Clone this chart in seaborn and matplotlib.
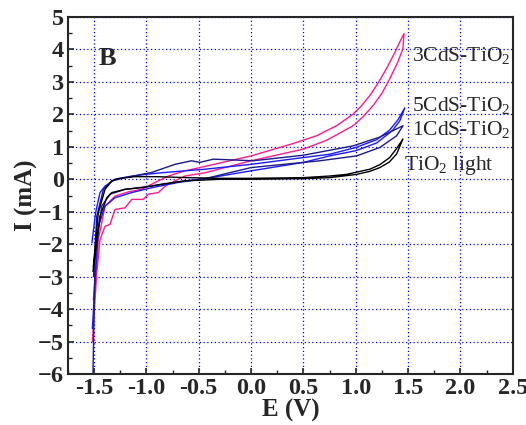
"""Voltametria ciclica (figura B) - TiO2 e CdS-TiO2 sob luz."""
import pandas as pd
import matplotlib
matplotlib.use("Agg")
import matplotlib.pyplot as plt
import seaborn as sns

sns.set_style("ticks")
plt.rcParams["font.family"] = ["Liberation Serif", "DejaVu Serif"]
plt.rcParams["mathtext.fontset"] = "custom"
plt.rcParams["mathtext.rm"] = "Liberation Serif"
plt.rcParams["mathtext.bf"] = "Liberation Serif:bold"

"""Curvas lidas da figura: ramo de ida e ramo de volta"""
# 3CdS-TiO2 (rosa)
cds3_E_ida = [-1.516, -1.474, -1.443, -1.395, -1.347, -1.30, -1.204, -1.14, -1.03, -0.98, -0.886,
              -0.82, -0.727, -0.632, -0.44, 0.0, 0.5, 0.72, 0.975, 1.07, 1.165, 1.25, 1.325,
              1.40, 1.45, 1.461]
cds3_I_ida = [-5.0, -2.89, -1.86, -1.45, -1.39, -0.93, -0.88, -0.62, -0.62, -0.46, -0.41,
              -0.21, -0.05, 0.10, 0.20, 0.57, 0.93, 1.20, 1.65, 1.93, 2.27, 2.65, 3.10,
              3.60, 4.02, 4.49]
cds3_E_volta = [1.461, 1.42, 1.36, 1.293, 1.21, 1.134, 1.05, 0.975, 0.816, 0.625, 0.40, 0.0,
                -0.489, -0.632, -0.79, -0.918, -1.045, -1.173, -1.30, -1.395, -1.459, -1.507]
cds3_I_volta = [4.49, 4.23, 3.82, 3.41, 2.95, 2.58, 2.25, 2.01, 1.65, 1.34, 1.10, 0.72,
                0.36, 0.26, 0.10, -0.10, -0.31, -0.39, -0.52, -0.83, -1.86, -3.72]

# 5CdS-TiO2 (azul)
cds5_E_ida = [-1.516, -1.459, -1.395, -1.30, -1.14, -0.95, -0.70, -0.44, 0.0, 0.5, 0.75,
              1.0, 1.2, 1.35, 1.42, 1.468]
cds5_I_ida = [-4.6, -1.45, -0.83, -0.57, -0.41, -0.26, -0.10, 0.02, 0.26, 0.52, 0.72,
              0.88, 1.12, 1.50, 1.80, 2.20]
cds5_E_volta = [1.468, 1.40, 1.324, 1.2, 1.0, 0.75, 0.5, 0.0, -0.44, -0.822, -1.013, -1.173,
                -1.30, -1.395, -1.443, -1.485, -1.52]
cds5_I_volta = [2.20, 1.82, 1.52, 1.22, 0.98, 0.77, 0.67, 0.46, 0.31, 0.21, 0.15, 0.08,
                0.0, -0.21, -0.41, -1.03, -1.96]

# 1CdS-TiO2 (azul escuro)
cds1_E_ida = [-1.51, -1.49, -1.427, -1.347, -1.204, -0.95, -0.632, -0.44, 0.0, 0.657,
              1.007, 1.23, 1.39, 1.451]
cds1_I_ida = [-6.0, -2.4, -0.83, -0.46, -0.31, -0.21, -0.05, 0.02, 0.36, 0.57,
              0.72, 0.98, 1.34, 1.65]
cds1_E_volta = [1.451, 1.324, 1.23, 0.975, 0.497, 0.02, -0.36, -0.49, -0.568, -0.727,
                -0.95, -1.204, -1.33, -1.41, -1.474, -1.505]
cds1_I_volta = [1.65, 1.45, 1.30, 1.03, 0.74, 0.57, 0.62, 0.52, 0.57, 0.46,
                0.21, 0.05, -0.05, -0.31, -1.14, -3.0]

# TiO2 luz (preto)
tio2_E_ida = [-1.51, -1.443, -1.379, -1.33, -1.204, -1.045, -0.854, -0.632, -0.3, 0.0, 0.5,
              0.75, 1.007, 1.13, 1.23, 1.32, 1.39, 1.45]
tio2_I_ida = [-2.84, -1.14, -0.57, -0.41, -0.31, -0.26, -0.15, -0.05, 0.0, 0.0, 0.02,
              0.05, 0.15, 0.24, 0.36, 0.53, 0.78, 1.24]
tio2_E_volta = [1.45, 1.39, 1.324, 1.23, 1.134, 0.911, 0.75, 0.5, 0.0, -0.3, -0.6, -0.9, -1.109,
                -1.268, -1.33, -1.395, -1.459, -1.507]
tio2_I_volta = [1.24, 0.95, 0.67, 0.45, 0.31, 0.15, 0.10, 0.05, 0.03, 0.03, 0.05, 0.08, 0.08,
                0.02, -0.05, -0.31, -1.03, -2.7]

curvas = [
    ("3CdS-TiO$_2$", cds3_E_ida + cds3_E_volta, cds3_I_ida + cds3_I_volta, "#ff1a8c"),
    ("5CdS-TiO$_2$", cds5_E_ida + cds5_E_volta, cds5_I_ida + cds5_I_volta, "#1a1aff"),
    ("1CdS-TiO$_2$", cds1_E_ida + cds1_E_volta, cds1_I_ida + cds1_I_volta, "#1a1a8c"),
    ("TiO$_2$ light", tio2_E_ida + tio2_E_volta, tio2_I_ida + tio2_I_volta, "black"),
]

"""Posicoes dos rotulos (E, I)"""
rotulos_pos = [(1.54, 3.78), (1.535, 2.26), (1.535, 1.52), (1.465, 0.41)]

fig = plt.figure(figsize=(5.26, 4.25), dpi=100)
ax = fig.add_axes([0.129, 0.12, 0.846, 0.84])

for nome, E, I, cor in curvas:
    df = pd.DataFrame({"E": E, "I": I})
    sns.lineplot(data=df, x="E", y="I", sort=False, estimator=None, color=cor, lw=1.0, ax=ax)

for (nome, _, _, _), (xe, yi) in zip(curvas, rotulos_pos):
    ax.text(xe, yi, nome, fontsize=15.5, ha="left", va="center")

ax.text(-1.46, 3.72, "B", fontsize=19, fontweight="bold", ha="left", va="center")

ax.set_xlim(-1.75, 2.5)
ax.set_ylim(-6, 5)
ax.set_xticks([-1.5, -1.0, -0.5, 0.0, 0.5, 1.0, 1.5, 2.0, 2.5])
ax.set_xticks([-1.75, -1.25, -0.75, -0.25, 0.25, 0.75, 1.25, 1.75, 2.25], minor=True)
ax.set_yticks(range(-6, 6))
ax.set_yticks([v + 0.5 for v in range(-6, 5)], minor=True)
ax.set_xticklabels(["-1.5", "-1.0", "-0.5", "0.0", "0.5", "1.0", "1.5", "2.0", "2.5"])
for lab in ax.get_xticklabels() + ax.get_yticklabels():
    lab.set_fontweight("bold")
    lab.set_fontsize(17.5)

ax.tick_params(which="major", direction="in", length=4, width=1.2, pad=3)
ax.tick_params(which="minor", direction="in", length=3, width=1.0)
ax.grid(True, which="major", color="#0000ff", linestyle=(0, (1, 2)), linewidth=0.9)
for s in ax.spines.values():
    s.set_linewidth(1.5)

ax.set_xlabel("E (V)", fontsize=18, fontweight="bold", labelpad=0)
ax.set_ylabel("I (mA)", fontsize=18, fontweight="bold", labelpad=0)

fig.savefig("out.png", dpi=100)
